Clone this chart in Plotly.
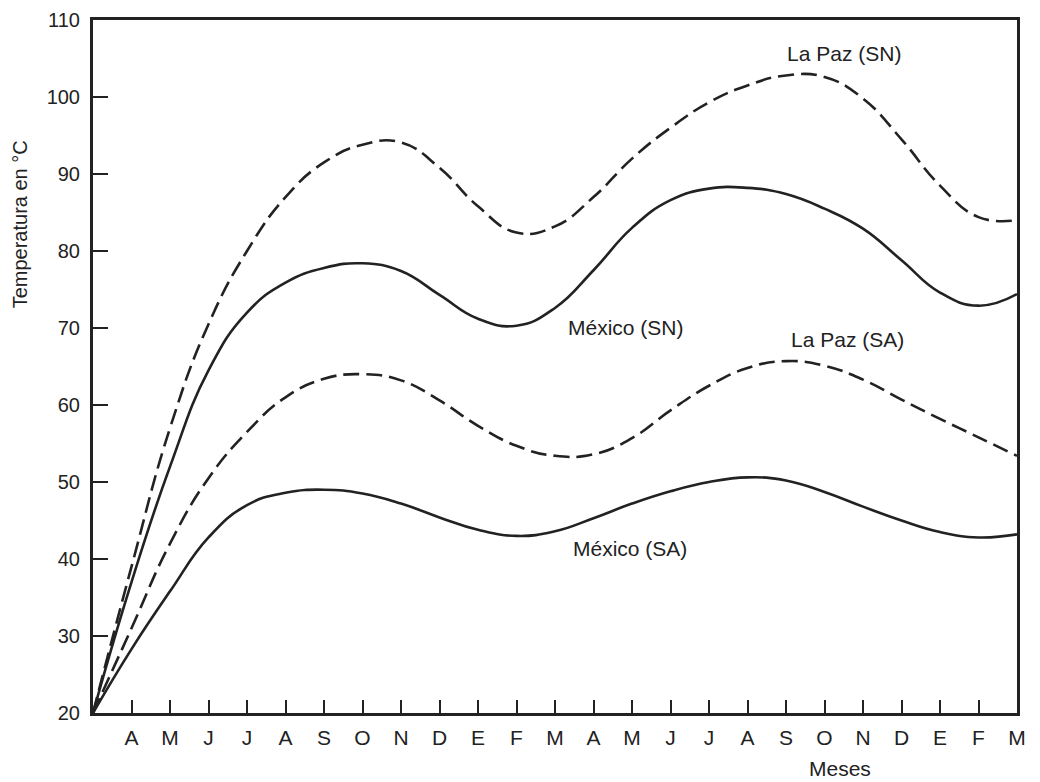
import plotly.graph_objects as go

# ---- data ----
month_pos = list(range(25))  # 0 = origin (March), then 24 months
month_labels = ["A", "M", "J", "J", "A", "S", "O", "N", "D", "E", "F", "M",
                "A", "M", "J", "J", "A", "S", "O", "N", "D", "E", "F", "M"]
y_ticks = [20, 30, 40, 50, 60, 70, 80, 90, 100, 110]

lapaz_sn = [20, 39, 57, 70.5, 80, 87, 91.5, 93.8, 94.1, 90.8, 85.8, 82.4, 83.2,
            87, 92, 96, 99.3, 101.5, 102.8, 102.6, 99.8, 94.5, 88.5, 84.4, 84]
mexico_sn = [20, 37, 52, 64.5, 72, 75.9, 77.8, 78.4, 77.4, 74.3, 71.2, 70.3, 72.6,
             77.5, 83, 86.6, 88.1, 88.2, 87.4, 85.5, 82.9, 78.8, 74.6, 72.9, 74.4]
lapaz_sa = [20, 31, 42, 50.5, 56.5, 61, 63.4, 64, 63.2, 60.6, 57.3, 54.7, 53.4,
            53.6, 55.7, 59.3, 62.5, 64.8, 65.7, 65.1, 63.3, 60.7, 58.2, 55.8, 53.4]
mexico_sa = [20, 28.3, 35.8, 42.8, 47, 48.6, 49, 48.5, 47.2, 45.4, 43.8, 43, 43.6,
             45.3, 47.2, 48.8, 50, 50.6, 50.2, 48.7, 46.8, 45, 43.5, 42.8, 43.2]

series = [
    ("La Paz (SN)", lapaz_sn, "16px,7px"),
    ("México (SN)", mexico_sn, "solid"),
    ("La Paz (SA)", lapaz_sa, "16px,7px"),
    ("México (SA)", mexico_sa, "solid"),
]

labels = [
    ("La Paz (SN)", 19.5, 105.6),
    ("México (SN)", 13.85, 70.1),
    ("La Paz (SA)", 19.6, 68.5),
    ("México (SA)", 13.95, 41.3),
]

ink = "#222222"
font_family = "Liberation Sans, Arial, sans-serif"

fig = go.Figure()
for name, vals, dash in series:
    fig.add_trace(go.Scatter(
        x=month_pos, y=vals, mode="lines", name=name,
        line=dict(color=ink, width=2.6, dash=dash, shape="spline", smoothing=1.3),
        showlegend=False, cliponaxis=True,
    ))

for text, xv, yv in labels:
    fig.add_annotation(x=xv, y=yv, text=text, showarrow=False,
                       font=dict(size=21, color=ink, family=font_family),
                       xanchor="center", yanchor="middle")

fig.add_annotation(x=0.808, y=-0.08, xref="paper", yref="paper", text="Meses",
                   showarrow=False, xanchor="center", yanchor="middle",
                   font=dict(size=21, color=ink, family=font_family))
fig.add_annotation(x=-0.078, y=0.705, xref="paper", yref="paper",
                   text="Temperatura en °C", textangle=-90, showarrow=False,
                   xanchor="center", yanchor="middle",
                   font=dict(size=20, color=ink, family=font_family))

fig.update_layout(
    width=1032, height=774,
    margin=dict(l=85, r=23, t=12, b=69, autoexpand=False),
    paper_bgcolor="white", plot_bgcolor="white",
    font=dict(family=font_family, color=ink, size=20),
)
fig.update_xaxes(
    range=[0, 24], tickmode="array", tickvals=list(range(1, 25)),
    ticktext=month_labels, ticks="inside", ticklen=13, tickwidth=2,
    tickcolor=ink, showline=True, linecolor=ink, linewidth=3, mirror=True,
    showgrid=False, zeroline=False, ticklabelstandoff=4, automargin=False,
    tickfont=dict(size=21, family=font_family, color=ink),
)
fig.update_yaxes(
    range=[20, 110], tickmode="array", tickvals=y_ticks,
    ticks="inside", ticklen=15, tickwidth=2, tickcolor=ink,
    showline=True, linecolor=ink, linewidth=3, mirror=True,
    showgrid=False, zeroline=False, ticklabelstandoff=6, automargin=False,
    tickfont=dict(size=20, family=font_family, color=ink),
)

fig.write_html("out.html")
